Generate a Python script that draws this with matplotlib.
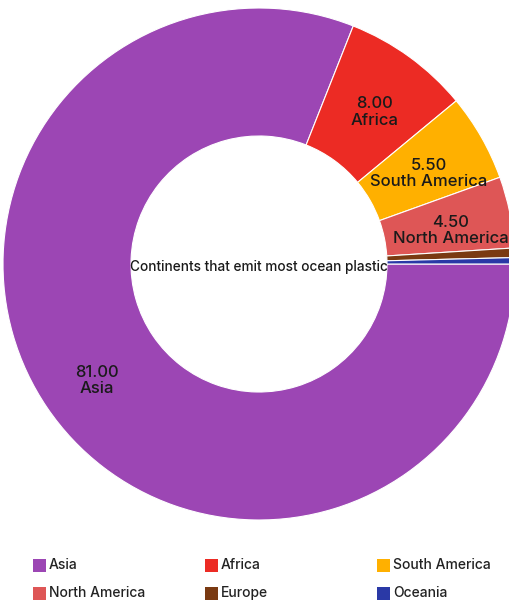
import matplotlib
matplotlib.use("Agg")
from matplotlib import pyplot as plt
from matplotlib.patches import Rectangle
import numpy as np

# data
continents = ["Asia", "Africa", "South America", "North America", "Europe", "Oceania"]
shares = [81.0, 8.0, 5.5, 4.5, 0.6, 0.4]
colors = ["#9c46b4", "#ec2b24", "#ffb000", "#de5656", "#7a3a12", "#2a39a6"]
center_title = "Continents that emit most ocean plastic"
labelled = ["Asia", "Africa", "South America", "North America"]

plt.rcParams['font.family'] = ['Inter', 'DejaVu Sans']

fig = plt.figure(figsize=(5.10, 6.01), dpi=100)
W, H = 510, 601
# donut spans x 3..515, y 8..520 (pixel coords from top)
ax = fig.add_axes([3 / W, (H - 520) / H, 512 / W, 512 / H])

wedges, _ = ax.pie(shares, colors=colors, startangle=0, counterclock=False,
                   radius=1.0, wedgeprops=dict(width=0.5, edgecolor="white",
                                               linewidth=0.8))

for w, name, val in zip(wedges, continents, shares):
    if name not in labelled:
        continue
    ang = np.deg2rad((w.theta1 + w.theta2) / 2)
    r = 0.765
    ax.text(r * np.cos(ang), r * np.sin(ang) - 0.025, "%.2f\n%s" % (val, name),
            ha="center", va="center", fontsize=12, color="#1a1a1a",
            linespacing=1.12, fontweight="medium")

ax.text(0, -0.01, center_title, ha="center", va="center", fontsize=9.8,
        color="#1a1a1a", fontweight="medium")
ax.set_xlim(-1, 1)
ax.set_ylim(-1, 1)
ax.set_aspect("equal")
ax.axis("off")

# legend laid out in rows of three, like the original
col_x = [33, 205, 377]
row_y = [565, 593]
for i, (name, c) in enumerate(zip(continents, colors)):
    x = col_x[i % 3]
    y = row_y[i // 3]
    fig.patches.append(Rectangle((x / W, (H - y - 6.5) / H), 13 / W, 13 / H,
                                 facecolor=c, edgecolor="none",
                                 transform=fig.transFigure, figure=fig))
    fig.text((x + 16) / W, (H - y) / H, name, ha="left", va="center",
             fontsize=10, color="#222222", fontweight="medium")

fig.savefig("out.png", dpi=100, facecolor="white")
